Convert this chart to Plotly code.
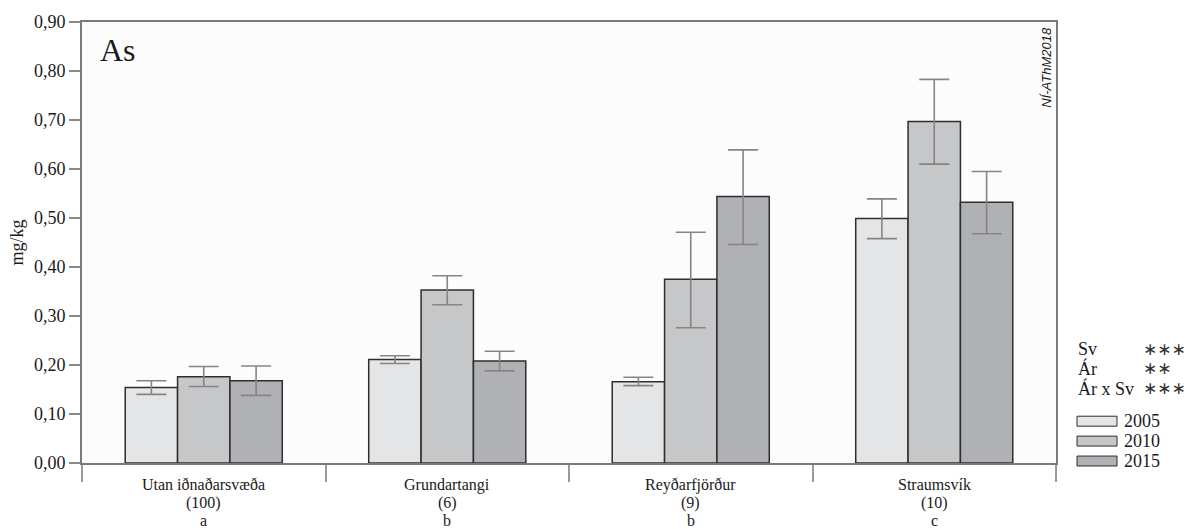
import plotly.graph_objects as go

# Sampling areas, number of sites and group letters
categories = ["Utan iðnaðarsvæða", "Grundartangi", "Reyðarfjörður", "Straumsvík"]
site_counts = ["(100)", "(6)", "(9)", "(10)"]
group_letters = ["a", "b", "b", "c"]

years = ["2005", "2010", "2015"]

# Mean As concentration (mg/kg) per area and year
as_2005 = [0.154, 0.211, 0.166, 0.499]
as_2010 = [0.176, 0.353, 0.375, 0.697]
as_2015 = [0.168, 0.208, 0.544, 0.532]

# Upper / lower ends of the error bars
upper_2005 = [0.168, 0.219, 0.175, 0.539]
lower_2005 = [0.140, 0.203, 0.158, 0.458]
upper_2010 = [0.197, 0.382, 0.471, 0.783]
lower_2010 = [0.156, 0.323, 0.276, 0.610]
upper_2015 = [0.198, 0.228, 0.639, 0.595]
lower_2015 = [0.138, 0.188, 0.446, 0.468]

y_ticks = [0.0, 0.1, 0.2, 0.3, 0.4, 0.5, 0.6, 0.7, 0.8, 0.9]
y_ticktext = [f"{v:.2f}".replace(".", ",") for v in y_ticks]

# Significance of the ANOVA terms
stat_terms = ["Sv", "Ár", "Ár x Sv"]
stat_stars = ["∗∗∗", "∗∗", "∗∗∗"]

colors = ["#e4e5e7", "#c6c7c9", "#b0b1b4"]
serif = '"Liberation Serif", "Times New Roman", Times, "DejaVu Serif", serif'
sans = '"Liberation Sans", Arial, Helvetica, sans-serif'
ink = "#1a1a1a"

W, H = 1193, 529
L, R, T, B = 82, 1056, 20, 463


def px_x(px):
    return (px - L) / (R - L)


def px_y(py):
    return (B - py) / (B - T)


fig = go.Figure()
series = [
    (as_2005, upper_2005, lower_2005),
    (as_2010, upper_2010, lower_2010),
    (as_2015, upper_2015, lower_2015),
]
for year, color, (vals, up, lo) in zip(years, colors, series):
    fig.add_trace(go.Bar(
        x=categories, y=vals, name=year,
        marker=dict(color=color, line=dict(color="#2e2e2e", width=1.5)),
        error_y=dict(
            type="data", symmetric=False,
            array=[u - v for u, v in zip(up, vals)],
            arrayminus=[v - l for v, l in zip(vals, lo)],
            color="#858585", thickness=1.6, width=15,
        ),
        showlegend=False,
    ))

fig.update_layout(
    width=W, height=H,
    margin=dict(l=L, r=W - R, t=T, b=H - B),
    paper_bgcolor="white",
    plot_bgcolor="#fcfcfc",
    barmode="group",
    bargap=0.355,
    bargroupgap=0,
    font=dict(family=serif, size=18, color=ink),
)

fig.update_yaxes(
    range=[0, 0.9],
    tickvals=y_ticks, ticktext=y_ticktext,
    ticks="outside", ticklen=11, tickwidth=1.5, tickcolor="#8a8a8a",
    showgrid=False, zeroline=False,
    showline=True, linecolor="#7a7a7a", linewidth=2, mirror=True,
    tickfont=dict(family=serif, size=18, color=ink),
    title=dict(text="mg/kg", font=dict(family=serif, size=18, color=ink), standoff=6),
)

fig.update_xaxes(
    type="category",
    tickson="boundaries",
    ticks="outside", ticklen=17, tickwidth=1.5, tickcolor="#9a9a9a",
    showgrid=False, showticklabels=False,
    showline=True, linecolor="#7a7a7a", linewidth=2, mirror=True,
)

annotations = []
# three-line label under each category
for cat, n, letter in zip(categories, site_counts, group_letters):
    for text, py in ((cat, 485), (n, 503), (letter, 520.5)):
        annotations.append(dict(x=cat, xref="x", y=px_y(py), yref="paper",
                                text=text, showarrow=False, yanchor="middle",
                                borderpad=0,
                                font=dict(family=serif, size=16, color=ink)))

# element label
annotations.append(dict(x=px_x(98), y=px_y(48), xref="paper", yref="paper",
                        text="As", showarrow=False, xanchor="left", yanchor="middle",
                        font=dict(family=serif, size=32, color=ink)))

# watermark
annotations.append(dict(x=px_x(1047), y=px_y(66), xref="paper", yref="paper",
                        text="<i>NÍ-AThM2018</i>", showarrow=False, textangle=-90,
                        xanchor="center", yanchor="middle",
                        font=dict(family=sans, size=13, color=ink)))

# statistics block
for i, (term, stars) in enumerate(zip(stat_terms, stat_stars)):
    yy = px_y(348 + 20 * i)
    annotations.append(dict(x=px_x(1077), y=yy, xref="paper", yref="paper",
                            text=term, showarrow=False, xanchor="left", yanchor="middle",
                            borderpad=0,
                            font=dict(family=serif, size=18, color=ink)))
    annotations.append(dict(x=px_x(1142), y=yy, xref="paper", yref="paper",
                            text=stars, showarrow=False, xanchor="left", yanchor="middle",
                            borderpad=0,
                            font=dict(family="DejaVu Sans, sans-serif", size=17,
                                      color="#333333")))

# legend swatches and labels
shapes = []
for i, (year, color) in enumerate(zip(years, colors)):
    cy = 421 + 20 * i
    shapes.append(dict(type="rect", xref="paper", yref="paper",
                       x0=px_x(1077), x1=px_x(1117), y0=px_y(cy + 5), y1=px_y(cy - 5),
                       fillcolor=color, line=dict(color="#2e2e2e", width=1)))
    annotations.append(dict(x=px_x(1123), y=px_y(cy), xref="paper", yref="paper",
                            text=year, showarrow=False, xanchor="left", yanchor="middle",
                            borderpad=0,
                            font=dict(family=serif, size=18, color=ink)))

fig.update_layout(annotations=annotations, shapes=shapes)

fig.write_html("out.html")
